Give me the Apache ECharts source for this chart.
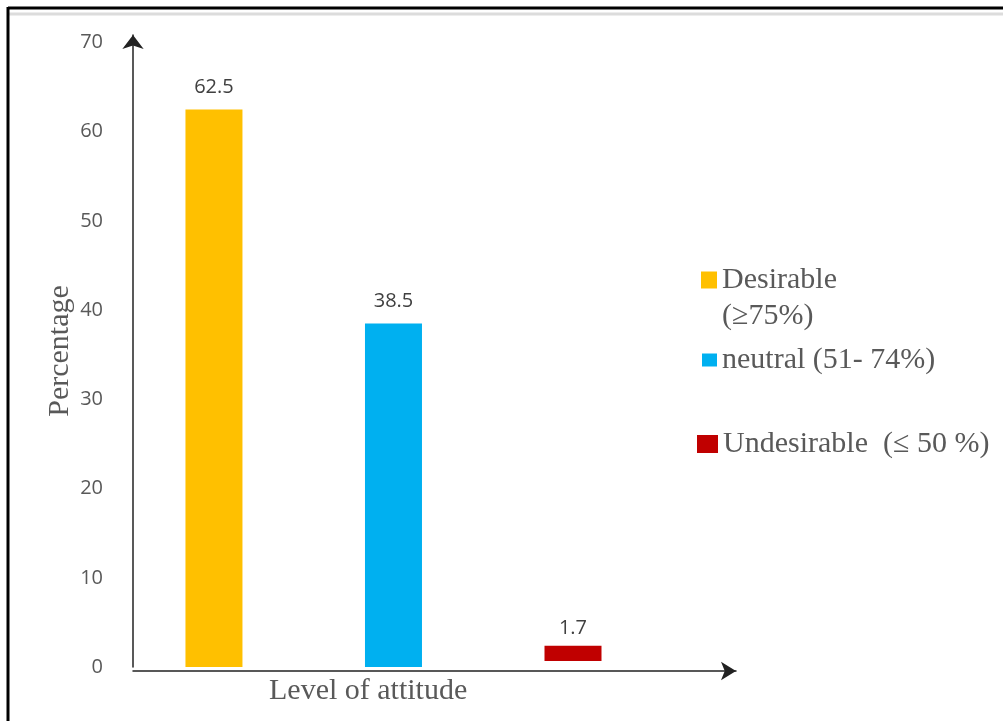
<!DOCTYPE html>
<html>
<head>
<meta charset="utf-8">
<script src="https://cdn.jsdelivr.net/npm/echarts@6/dist/echarts.min.js"></script>
<style>
  html, body { margin: 0; padding: 0; background: #fff; }
  #chart { width: 1003px; height: 721px; }
</style>
</head>
<body>
<div id="chart"></div>
<script>
// levels of attitude, in the order they are drawn
var categories = ['Desirable (≥75%)', 'neutral (51- 74%)', 'Undesirable  (≤ 50 %)'];
var slots = [1, 2, 3];
var values = [62.5, 38.5, 1.7];
// the red bar sits a little above the axis in the original
var lift = [0, 0, 0.67];
var colors = ['#FFC000', '#00B0F0', '#C00000'];
var labelGap = [12, 12, 8];

var yMin = 0, yMax = 70.85, yStep = 10;

var grey = '#595959';
var serif = '"Liberation Serif", "Times New Roman", serif';
var sans = '"Open Sans", "Liberation Sans", sans-serif';

// value first so the stack is done on the y values
var dims = ['v', 'slot'];
var enc = { x: 1, y: 0 };

var series = [];
for (var i = 0; i < categories.length; i++) {
    if (lift[i] > 0) {
        series.push({
            name: '_base' + i,
            type: 'bar',
            stack: 's' + i,
            barWidth: 57,
            barGap: '-100%',
            silent: true,
            dimensions: dims,
            encode: enc,
            itemStyle: { color: 'rgba(0,0,0,0)' },
            data: [[lift[i], slots[i]]]
        });
    }
    series.push({
        name: categories[i],
        type: 'bar',
        stack: 's' + i,
        barWidth: 57,
        barGap: '-100%',
        dimensions: dims,
        encode: enc,
        itemStyle: { color: colors[i] },
        label: {
            show: true,
            position: 'top',
            distance: labelGap[i],
            fontFamily: sans,
            fontSize: 20,
            lineHeight: 20,
            color: '#404040',
            formatter: function (p) { return p.value[0]; }
        },
        data: [[values[i], slots[i]]]
    });
}

function legendFor(idx, top, left, w, h, fmt) {
    return {
        data: [categories[idx]],
        orient: 'vertical',
        left: left,
        top: top,
        padding: 0,
        itemWidth: w,
        itemHeight: h,
        icon: 'rect',
        selectedMode: false,
        formatter: fmt,
        textStyle: {
            fontFamily: serif,
            fontSize: 30,
            lineHeight: 36,
            color: grey
        }
    };
}

var chart = echarts.init(document.getElementById('chart'));
chart.setOption({
    backgroundColor: '#fff',
    animation: false,
    title: {
        text: 'Level of attitude',
        left: 269,
        top: 674,
        padding: 0,
        textStyle: { fontFamily: serif, fontSize: 30, lineHeight: 34, fontWeight: 'normal', color: grey }
    },
    legend: [
        // empty first line keeps the square level with "Desirable"
        legendFor(0, 226, 701, 16, 17, function (n) { return '\n' + n.replace(' (', '\n('); }),
        legendFor(1, 342, 702, 15, 13, '{name}'),
        legendFor(2, 426, 697, 21, 18, '{name}')
    ],
    grid: { left: 133, right: 267, top: 35, bottom: 54 },
    xAxis: {
        type: 'value',
        min: 0.549,
        max: 3.908,
        offset: 4,
        splitLine: { show: false },
        axisTick: { show: false },
        axisLabel: { show: false },
        axisLine: {
            show: true,
            onZero: false,
            symbol: ['none', 'arrow'],
            symbolSize: [14, 15],
            lineStyle: { color: '#222', width: 1.5 }
        }
    },
    yAxis: {
        type: 'value',
        min: yMin,
        max: yMax,
        interval: yStep,
        name: 'Percentage',
        nameLocation: 'middle',
        nameRotate: 90,
        nameGap: 58,
        nameMoveOverlap: false,
        nameTextStyle: { fontFamily: serif, fontSize: 30, color: grey },
        splitLine: { show: false },
        axisTick: { show: false },
        axisLabel: {
            margin: 30,
            fontFamily: sans,
            fontSize: 20,
            color: grey,
            formatter: function (v) { return v % yStep === 0 ? String(v) : ''; }
        },
        axisLine: {
            show: true,
            onZero: false,
            symbol: ['none', 'arrow'],
            symbolSize: [16, 14],
            lineStyle: { color: '#222', width: 1.5 }
        }
    },
    graphic: [
        { type: 'line', silent: true, shape: { x1: 9, y1: 14, x2: 1003, y2: 14 }, style: { stroke: '#dcdcdc', lineWidth: 3 } },
        { type: 'line', silent: true, shape: { x1: 8, y1: 8, x2: 1003, y2: 8 }, style: { stroke: '#000', lineWidth: 3 } },
        { type: 'line', silent: true, shape: { x1: 8, y1: 7, x2: 8, y2: 721 }, style: { stroke: '#000', lineWidth: 3 } }
    ],
    series: series
});
</script>
</body>
</html>
